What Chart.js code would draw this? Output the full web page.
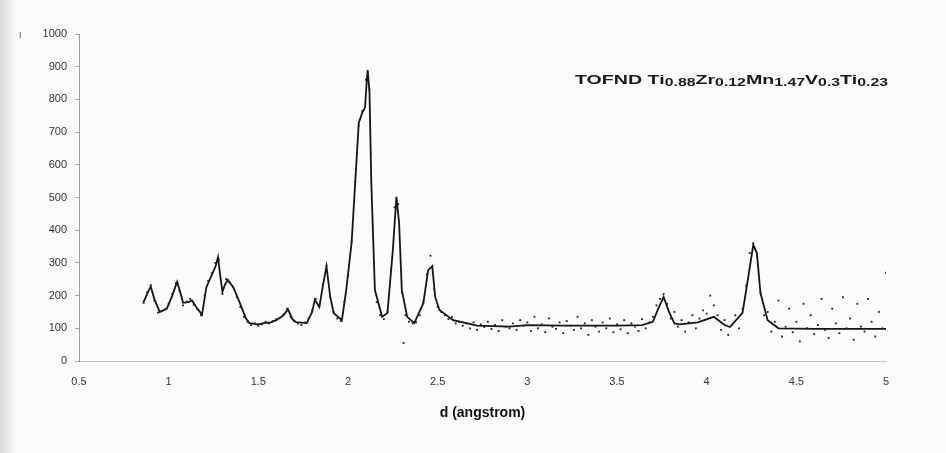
<!DOCTYPE html>
<html>
<head>
<meta charset="utf-8">
<script src="https://cdn.jsdelivr.net/npm/chart.js@4.4.1/dist/chart.umd.min.js"></script>
<style>
  html, body { margin: 0; padding: 0; }
  body { width: 946px; height: 453px; background: linear-gradient(to right, #d9d9d9 0px, #ececec 10px, #fbfbfb 16px, #fcfcfc 100%); overflow: hidden; }
  #wrap { position: relative; width: 946px; height: 453px; }
</style>
</head>
<body>
<div id="wrap"><canvas id="c" width="946" height="453"></canvas></div>
<script>
// ---- Data ----
const xTicks = [0.5, 1, 1.5, 2, 2.5, 3, 3.5, 4, 4.5, 5];
const yTicks = [0, 100, 200, 300, 400, 500, 600, 700, 800, 900, 1000];

// calculated (fitted) profile
const calcD = [0.86,0.88,0.90,0.92,0.95,0.99,1.02,1.047,1.07,1.08,1.11,1.13,1.16,1.186,1.21,1.24,1.262,1.275,1.29,1.30,1.315,1.33,1.36,1.39,1.43,1.45,1.50,1.53,1.57,1.60,1.64,1.665,1.69,1.71,1.77,1.80,1.815,1.84,1.86,1.88,1.90,1.92,1.966,1.99,2.02,2.04,2.06,2.08,2.095,2.105,2.11,2.12,2.13,2.15,2.19,2.22,2.25,2.27,2.285,2.30,2.33,2.37,2.42,2.447,2.47,2.486,2.51,2.586,2.72,2.9,3.0,3.2,3.5,3.64,3.70,3.73,3.76,3.79,3.82,3.85,3.95,4.04,4.10,4.13,4.2,4.23,4.26,4.28,4.30,4.34,4.40,4.6,4.8,5.0];
const calcI = [180,205,228,190,150,160,200,242,200,178,180,185,160,142,225,263,290,318,250,212,235,248,226,187,131,116,112,116,118,125,140,158,128,119,116,150,187,165,230,290,200,147,125,217,361,544,728,760,775,860,890,820,544,217,135,147,339,502,422,217,135,116,177,278,290,196,156,125,108,105,110,108,108,110,120,160,196,150,115,112,118,135,110,104,147,250,355,330,208,125,100,98,98,98];

// observed data points
const obsD = [0.86,0.88,0.90,0.92,0.94,0.96,0.98,1.00,1.02,1.04,1.06,1.08,1.10,1.12,1.14,1.16,1.18,1.20,1.22,1.24,1.26,1.28,1.30,1.32,1.34,1.36,1.38,1.40,1.42,1.44,1.46,1.48,1.50,1.52,1.54,1.56,1.58,1.60,1.62,1.64,1.66,1.68,1.70,1.72,1.74,1.76,1.78,1.80,1.82,1.84,1.86,1.88,1.90,1.92,1.94,1.96,1.98,2.00,2.02,2.04,2.06,2.08,2.10,2.12,2.14,2.16,2.18,2.20,2.22,2.24,2.26,2.28,2.30,2.31,2.32,2.34,2.36,2.38,2.40,2.42,2.44,2.46,2.48,2.50,2.52,2.54,2.56,2.58,2.60,2.62,2.64,2.66,2.68,2.70,2.72,2.74,2.76,2.78,2.80,2.82,2.84,2.86,2.88,2.90,2.92,2.94,2.96,2.98,3.00,3.02,3.04,3.06,3.08,3.10,3.12,3.14,3.16,3.18,3.20,3.22,3.24,3.26,3.28,3.30,3.32,3.34,3.36,3.38,3.40,3.42,3.44,3.46,3.48,3.50,3.52,3.54,3.56,3.58,3.60,3.62,3.64,3.66,3.68,3.70,3.72,3.74,3.76,3.78,3.80,3.82,3.84,3.86,3.88,3.90,3.92,3.94,3.96,3.98,4.00,4.02,4.04,4.06,4.08,4.10,4.12,4.14,4.16,4.18,4.20,4.22,4.24,4.26,4.28,4.30,4.32,4.34,4.36,4.38,4.40,4.42,4.44,4.46,4.48,4.50,4.52,4.54,4.56,4.58,4.60,4.62,4.64,4.66,4.68,4.70,4.72,4.74,4.76,4.78,4.80,4.82,4.84,4.86,4.88,4.90,4.92,4.94,4.96,4.98,5.00];
const obsI = [178,210,232,185,148,152,158,175,205,238,215,170,182,190,172,158,140,200,245,268,300,310,205,250,240,225,195,165,135,120,110,115,108,112,120,115,122,128,132,142,160,135,122,115,110,118,130,155,190,170,235,292,195,150,130,122,180,260,365,548,720,765,860,830,380,180,140,128,150,280,470,480,210,55,140,120,115,118,140,180,265,322,220,165,150,140,128,135,115,120,108,115,100,118,95,112,104,120,98,110,92,125,105,100,115,95,125,108,118,92,135,100,112,88,130,105,98,118,85,122,108,95,135,100,115,80,125,105,90,118,100,130,88,112,97,125,85,115,105,92,128,100,118,135,170,190,205,175,130,150,105,125,90,118,140,100,130,155,145,200,170,140,95,125,80,110,140,100,160,230,330,360,320,210,140,150,90,120,185,75,105,160,88,120,60,175,100,140,82,110,190,95,70,160,115,85,195,100,130,65,175,105,90,190,120,75,150,100,270];

const xTitle = 'd (angstrom)';
const yTitle = 'I';
// label parts: [text, isSubscript]
const labelParts = [['TOFND Ti',0],['0.88',1],['Zr',0],['0.12',1],['Mn',0],['1.47',1],['V',0],['0.3',1],['Ti',0],['0.23',1]];

const toXY = (xs, ys) => xs.map((x, i) => ({x: x, y: ys[i]}));

const labelPlugin = {
  id: 'labelPlugin',
  afterDraw(chart) {
    const ctx = chart.ctx;
    ctx.save();
    ctx.fillStyle = '#1a1a1a';
    ctx.textBaseline = 'alphabetic';
    const fam = '"Liberation Sans", Arial, sans-serif';
    const bigS = 13, smallS = 10.5;
    let total = 0;
    labelParts.forEach(p => { ctx.font = 'bold ' + (p[1] ? smallS : bigS) + 'px ' + fam; total += ctx.measureText(p[0]).width; });
    const left = 575, targetW = 313;
    const sx = targetW / total;
    ctx.translate(left, 0);
    ctx.scale(sx, 1);
    let x = 0;
    const base = 84;
    labelParts.forEach(p => {
      ctx.font = 'bold ' + (p[1] ? smallS : bigS) + 'px ' + fam;
      ctx.fillText(p[0], x, p[1] ? base + 1.5 : base);
      x += ctx.measureText(p[0]).width;
    });
    ctx.restore();
    ctx.save();
    // small y label at top left
    ctx.font = '9px ' + fam;
    ctx.fillStyle = '#555';
    ctx.fillText(yTitle, 19, 38);
    ctx.restore();
  }
};

const fmt = (v) => String(v);

new Chart(document.getElementById('c'), {
  type: 'scatter',
  data: {
    datasets: [
      {
        label: 'calc',
        data: toXY(calcD, calcI),
        showLine: true,
        borderColor: '#151515',
        borderWidth: 1.8,
        pointRadius: 0,
        tension: 0,
        order: 2
      },
      {
        label: 'obs',
        data: toXY(obsD, obsI),
        showLine: false,
        pointStyle: 'rect',
        pointRadius: 1.3,
        backgroundColor: '#222',
        borderColor: '#222',
        borderWidth: 0,
        order: 1
      }
    ]
  },
  plugins: [labelPlugin],
  options: {
    responsive: false,
    animation: false,
    layout: { padding: { left: 0, right: 60, top: 34, bottom: 27 } },
    plugins: { legend: { display: false }, tooltip: { enabled: false } },
    scales: {
      x: {
        type: 'linear',
        min: 0.5, max: 5,
        afterBuildTicks: (s) => { s.ticks = xTicks.map(v => ({value: v})); },
        afterFit: (s) => { s.height = 65; },
        grid: { display: true, drawOnChartArea: false, drawTicks: false, tickLength: 0 },
        border: { display: true, color: 'rgba(170,140,200,0.6)', width: 1 },
        ticks: { color: '#333', font: { family: '"Liberation Sans", Arial, sans-serif', size: 11 }, padding: 14, maxRotation: 0, callback: fmt },
        title: { display: true, text: xTitle, color: '#111', font: { family: '"Liberation Sans", Arial, sans-serif', size: 14, weight: 'bold' }, padding: { top: 4, bottom: 4 } }
      },
      y: {
        type: 'linear',
        min: 0, max: 1000,
        afterBuildTicks: (s) => { s.ticks = yTicks.map(v => ({value: v})); },
        afterFit: (s) => { s.width = 79; },
        grid: { display: true, drawOnChartArea: false, drawTicks: true, tickLength: 4, color: 'rgba(120,100,150,0.6)' },
        border: { display: true, color: 'rgba(120,100,150,0.7)', width: 1 },
        ticks: { color: '#333', font: { family: '"Liberation Sans", Arial, sans-serif', size: 11 }, padding: 8, callback: fmt }
      }
    }
  }
});
</script>
</body>
</html>
